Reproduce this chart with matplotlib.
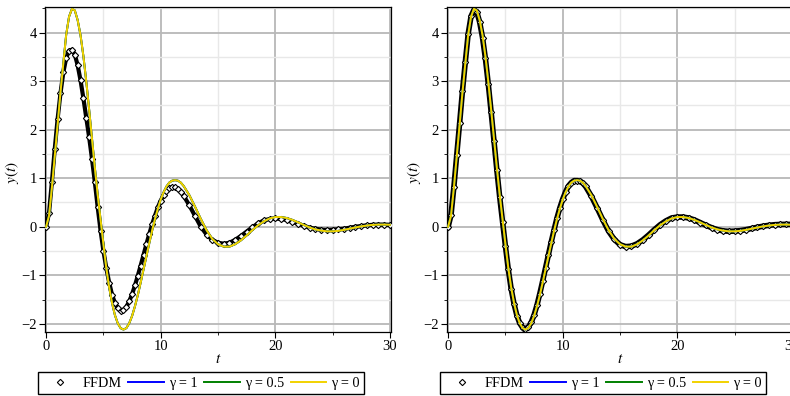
import matplotlib

matplotlib.use("Agg")
import matplotlib.pyplot as plt
from matplotlib.ticker import MultipleLocator

plt.rcParams["font.family"] = ["Liberation Serif", "DejaVu Serif"]
plt.rcParams["mathtext.fontset"] = "stix"

# time grid
t = [0, 0.25, 0.5, 0.75, 1, 1.25, 1.5, 1.75, 2, 2.25, 2.5, 2.75, 3, 3.25, 3.5, 3.75,
     4, 4.25, 4.5, 4.75, 5, 5.25, 5.5, 5.75, 6, 6.25, 6.5, 6.75, 7, 7.25, 7.5, 7.75,
     8, 8.25, 8.5, 8.75, 9, 9.25, 9.5, 9.75, 10, 10.25, 10.5, 10.75, 11, 11.25, 11.5,
     11.75, 12, 12.5, 13, 13.5, 14, 14.5, 15, 15.5, 16, 16.5, 17, 17.5, 18, 18.5, 19,
     19.5, 20, 20.5, 21, 21.5, 22, 22.5, 23, 23.5, 24, 24.5, 25, 25.5, 26, 26.5, 27,
     27.5, 28, 28.5, 29, 29.5, 30]

# exact solutions (gamma = 1, 0.5, 0 lie on top of each other)
exact = [0, 0.225, 0.80, 1.45, 2.10, 2.77, 3.37, 3.96, 4.33,
         4.49, 4.46, 4.26, 3.95, 3.52, 3.00, 2.42, 1.82,
         1.22, 0.66, 0.15, -0.36, -0.85, -1.25, -1.57, -1.82,
         -1.99, -2.09, -2.12, -2.09, -1.99, -1.84, -1.64, -1.41,
         -1.15, -0.88, -0.61, -0.34, -0.08, 0.16, 0.37, 0.56,
         0.71, 0.83, 0.91, 0.95, 0.96, 0.95, 0.91, 0.84,
         0.65, 0.41, 0.16, -0.07, -0.25, -0.36, -0.41, -0.41,
         -0.36, -0.28, -0.18, -0.07, 0.03, 0.11, 0.17, 0.20,
         0.20, 0.18, 0.14, 0.09, 0.035, -0.015, -0.055, -0.08,
         -0.095, -0.095, -0.085, -0.065, -0.04, -0.015, 0.008, 0.025,
         0.038, 0.044, 0.045, 0.04]
gamma_1 = exact
gamma_05 = exact
gamma_0 = exact

# FFDM, coarse (left) and fine (right)
ffdm_left = [0, 0.28, 0.92, 1.60, 2.22, 2.75, 3.18, 3.48, 3.63,
             3.65, 3.55, 3.33, 3.02, 2.65, 2.25, 1.85, 1.40,
             0.92, 0.40, -0.08, -0.50, -0.85, -1.15, -1.40, -1.57,
             -1.68, -1.73, -1.72, -1.65, -1.54, -1.39, -1.21, -1.01,
             -0.80, -0.58, -0.36, -0.15, 0.05, 0.23, 0.40, 0.54,
             0.65, 0.74, 0.80, 0.82, 0.81, 0.78, 0.72, 0.64,
             0.44, 0.22, 0.00, -0.16, -0.27, -0.33, -0.35, -0.33,
             -0.27, -0.19, -0.10, -0.01, 0.07, 0.13, 0.16, 0.17,
             0.16, 0.14, 0.10, 0.06, 0.02, -0.02, -0.04, -0.06,
             -0.065, -0.06, -0.05, -0.04, -0.02, 0.00, 0.015, 0.03,
             0.04, 0.045, 0.045, 0.04]
ffdm_right = [0, 0.24, 0.82, 1.48, 2.13, 2.80, 3.40, 3.98, 4.34,
              4.47, 4.43, 4.22, 3.90, 3.47, 2.95, 2.37, 1.77,
              1.17, 0.61, 0.10, -0.40, -0.88, -1.28, -1.59, -1.83,
              -1.99, -2.08, -2.10, -2.07, -1.97, -1.82, -1.62, -1.38,
              -1.12, -0.85, -0.58, -0.31, -0.06, 0.18, 0.39, 0.57,
              0.72, 0.84, 0.91, 0.95, 0.95, 0.94, 0.90, 0.83,
              0.63, 0.39, 0.14, -0.09, -0.26, -0.37, -0.41, -0.40,
              -0.35, -0.27, -0.17, -0.06, 0.04, 0.12, 0.18, 0.20,
              0.20, 0.18, 0.14, 0.085, 0.03, -0.02, -0.06, -0.085,
              -0.095, -0.09, -0.08, -0.06, -0.035, -0.01, 0.012, 0.03,
              0.042, 0.048, 0.05, 0.048]

W, H = 790, 396
fig = plt.figure(figsize=(W / 100, H / 100), dpi=100)

# (ffdm data, axes left edge px, width of the ffdm band, legend centre px)
panels = [(ffdm_left, 45, 3.0, 201), (ffdm_right, 447, 4.0, 603)]

for ffdm, left_px, band, leg_x in panels:
    ax = fig.add_axes([left_px / W, 64 / H, 346 / W, 325 / H])
    ax.set_xlim(-0.1, 30.1)
    ax.set_ylim(-2.17, 4.53)
    ax.xaxis.set_major_locator(MultipleLocator(10))
    ax.xaxis.set_minor_locator(MultipleLocator(5))
    ax.yaxis.set_major_locator(MultipleLocator(1))
    ax.yaxis.set_minor_locator(MultipleLocator(0.5))
    ax.grid(which="major", color="#b8b8b8", lw=1.3)
    ax.grid(which="minor", color="#e8e8e8", lw=1.0)
    ax.set_axisbelow(True)
    ax.tick_params(which="major", direction="out", length=4, width=0.8, labelsize=10.5, pad=2)
    ax.tick_params(which="minor", direction="out", length=2.5, width=0.6)
    for sp in ax.spines.values():
        sp.set_color("black")
        sp.set_linewidth(0.9)

    ax.plot(t, ffdm, color="black", lw=band, zorder=3)
    ax.plot(t, ffdm, ls="none", marker="D", ms=3.2, mfc="white", mec="black", mew=0.8,
            zorder=3, label="FFDM")
    ax.plot(t, gamma_1, color="#0000ff", lw=1.4, zorder=4, label="γ = 1")
    ax.plot(t, gamma_05, color="#008000", lw=1.4, zorder=4, label="γ = 0.5")
    ax.plot(t, gamma_0, color="#f2d200", lw=1.4, zorder=5, label="γ = 0")

    ax.set_xlabel("$t$", fontsize=11, labelpad=0)
    ax.set_ylabel("$y(t)$", fontsize=11)
    ax.yaxis.set_label_coords(-0.068, 0.49)

    leg = ax.legend(loc="center", bbox_to_anchor=(leg_x / W, 1 - 383 / H),
                    bbox_transform=fig.transFigure, ncol=4, fontsize=10.3,
                    handlelength=2.5, handletextpad=0.35, columnspacing=0.45,
                    borderpad=0.3, borderaxespad=0, numpoints=1, fancybox=False,
                    framealpha=1)
    leg.get_frame().set_edgecolor("black")
    leg.get_frame().set_linewidth(1.0)

fig.savefig("out.png", dpi=100)
